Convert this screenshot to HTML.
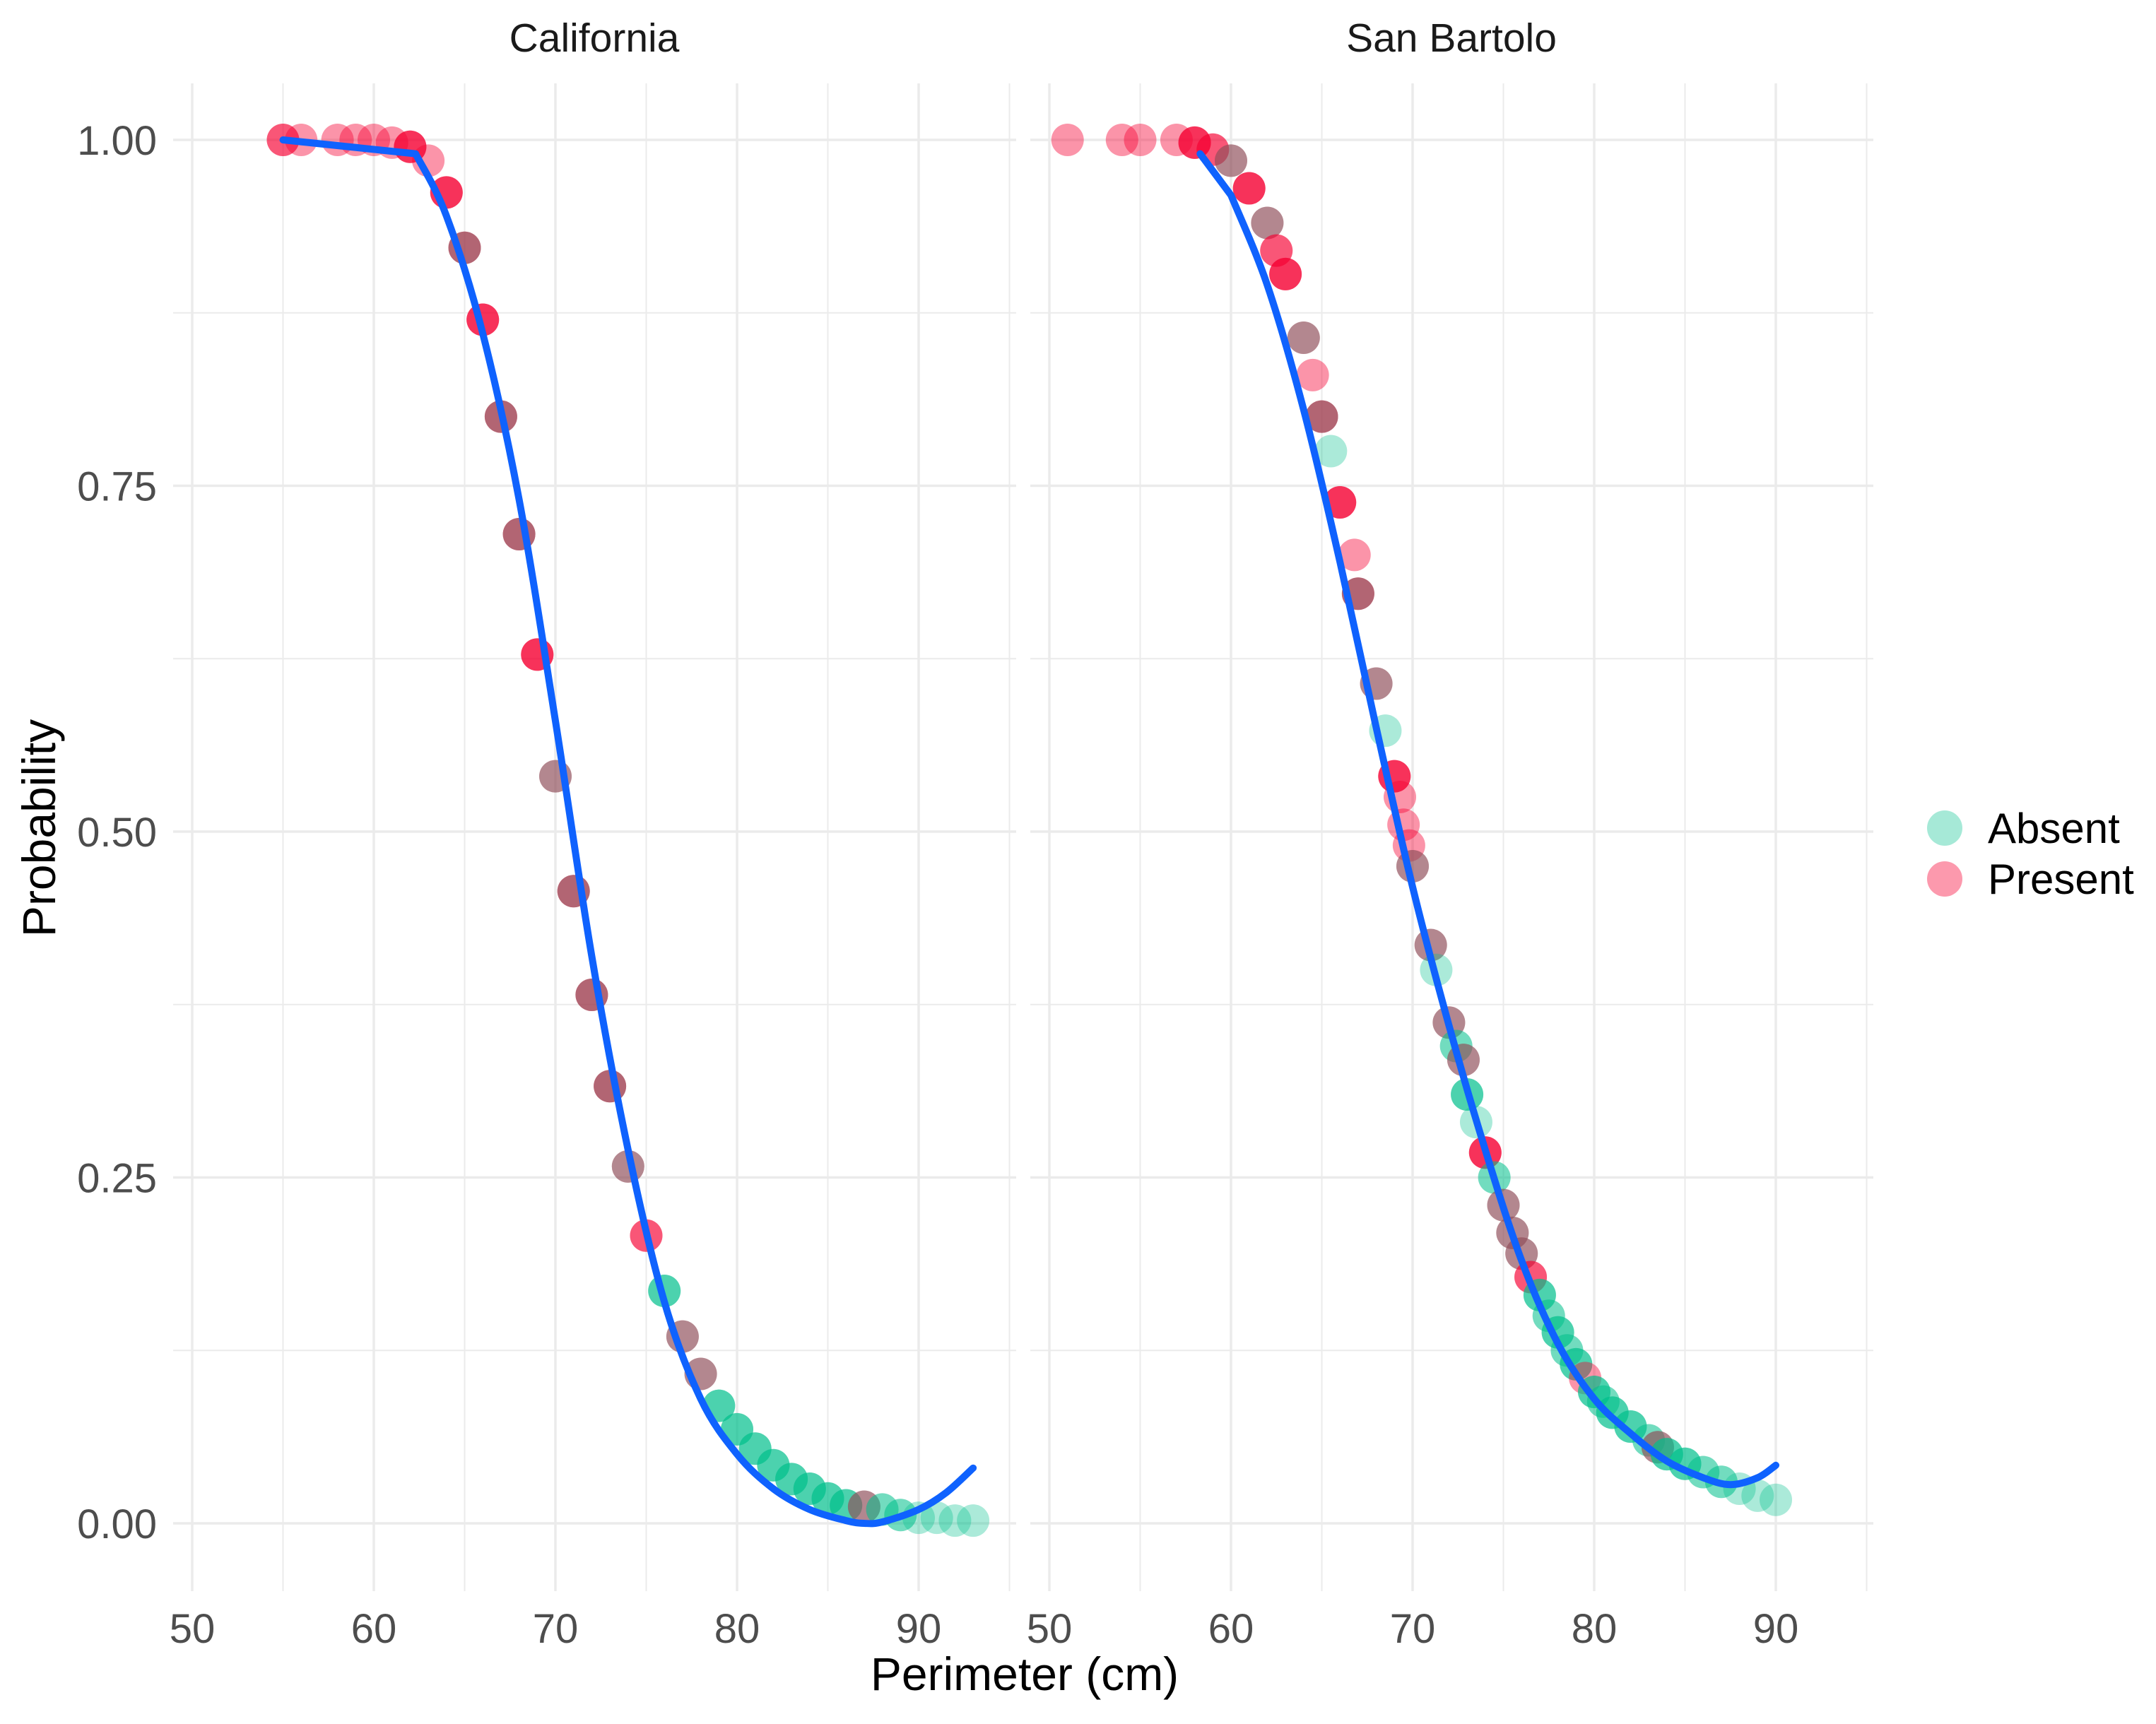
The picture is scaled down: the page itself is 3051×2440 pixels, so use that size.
<!DOCTYPE html>
<html><head><meta charset="utf-8"><style>
html,body{margin:0;padding:0;background:#fff;width:3051px;height:2440px;overflow:hidden}
svg{display:block;font-family:"Liberation Sans",sans-serif}
</style></head><body>
<svg id="chart" width="3051" height="2440" viewBox="0 0 3051 2440">
<g id="grid"></g><g id="marks"></g><g id="labels"></g>
<g>
<circle cx="2752" cy="1172" r="25" fill="rgb(0,192,140)" fill-opacity="0.35"/>
<circle cx="2752" cy="1244" r="25" fill="rgb(248,0,50)" fill-opacity="0.4"/>
<text x="2813" y="1193" font-size="60" fill="#000">Absent</text>
<text x="2813" y="1265" font-size="60" fill="#000">Present</text>
</g>
<text x="1450" y="2392" font-size="66" text-anchor="middle" fill="#000">Perimeter (cm)</text>
<text transform="translate(78,1172) rotate(-90)" font-size="66" text-anchor="middle" fill="#000">Probability</text>
</svg>
<script>
const xTicks = [50,60,70,80,90];
const yTicks = [0,0.25,0.5,0.75,1];
const yTickLabels = ["0.00","0.25","0.50","0.75","1.00"];
const panelTitles = ["California","San Bartolo"];
// California points
const calX = [55,56,58,59,60,61,62,63,64,65,66,67,68,69,70,71,72,73,74,75,76,77,78,79,80,81,82,83,84,85,86,87,88,89,90,91,92,93];
const calP = [1,1,1,1,1,0.998,0.995,0.985,0.962,0.922,0.87,0.8,0.715,0.628,0.54,0.457,0.382,0.316,0.258,0.208,0.168,0.135,0.108,0.085,0.068,0.054,0.042,0.032,0.025,0.018,0.013,0.012,0.01,0.006,0.004,0.004,0.002,0.002];
const calType = ["PP","P","P","P","P","P","PPP","P","PPP","PPA","PPP","PPA","PPA","PPP","PA","PPA","PPA","PPA","PA","PP","AAA","PA","PA","AAA","AAA","AAA","AAA","AAA","AAA","AAA","AAA","PA","AA","AA","A","A","A","A"];
const calCurveX = [55,62.3,64,66,68,70,72,74,76,78,80,82,84,86,87,88,90,91.5,93];
const calCurveP = [1,0.99,0.945,0.86,0.74,0.58,0.41,0.27,0.16,0.09,0.05,0.025,0.01,0.002,0.0,0.001,0.01,0.022,0.04];
// San Bartolo points
const sbX = [51,54,55,57,58,59,60,61,62,62.5,63,64,64.5,65,65.5,66,66.8,67,68,68.5,69,69.3,69.5,69.8,70,71,71.3,72,72.4,72.8,73,73.5,74,74.5,75,75.5,76,76.5,77,77.5,78,78.5,79,79.5,80,80.5,81,82,83,83.5,84,85,86,87,88,89,90];
const sbP = [1,1,1,1,0.998,0.993,0.985,0.965,0.94,0.92,0.903,0.857,0.83,0.80,0.775,0.738,0.70,0.672,0.607,0.573,0.54,0.525,0.505,0.49,0.475,0.418,0.40,0.362,0.345,0.335,0.31,0.29,0.268,0.25,0.23,0.21,0.195,0.178,0.165,0.15,0.138,0.125,0.115,0.105,0.095,0.088,0.08,0.07,0.06,0.055,0.05,0.043,0.037,0.03,0.025,0.02,0.017];
const sbType = ["P","P","P","P","PPP","PP","PA","PPP","PA","PP","PPP","PA","P","PPA","A","PPP","P","PPA","PA","A","PPP","P","P","P","PA","PA","A","PA","AA","PA","AAA","A","PPP","AA","PA","PA","PA","PP","AAA","AA","AAA","AA","AAA","P","AAA","AA","AAA","AAA","AA","PA","AAA","AAA","AA","AA","A","A","A"];
const sbCurveX = [58.3,60,62,64,66,68,70,72,74,76,78,80,82,84,86,87.5,89,90];
const sbCurveP = [0.99,0.96,0.895,0.805,0.695,0.575,0.46,0.36,0.27,0.19,0.13,0.09,0.065,0.045,0.033,0.028,0.033,0.042];

const NS="http://www.w3.org/2000/svg";
const panels=[{x50:272,left:245,right:1438,cx:841},{x50:1485,left:1458,right:2651,cx:2054}];
const pxPerUnit=25.7, yTop=118, yBot=2252;
function yScale(p){return 2156-p*1958;}
function xScale(pi,v){return panels[pi].x50+(v-50)*pxPerUnit;}
const grid=document.getElementById('grid'), marks=document.getElementById('marks'), labels=document.getElementById('labels');
function mk(tag,attrs,parent){const e=document.createElementNS(NS,tag);for(const k in attrs)e.setAttribute(k,attrs[k]);parent.appendChild(e);return e;}
panels.forEach((pn,pi)=>{
  for(let v=45;v<=95;v+=5){const x=xScale(pi,v);if(x<pn.left||x>pn.right)continue;
    const l=mk('line',{x1:x,x2:x,y1:yTop,y2:yBot,stroke:'#ebebeb','stroke-width':v%10===0?3.5:2},grid);
    
    }
  for(let i=0;i<=8;i++){const y=yScale(i*0.125);
    const l=mk('line',{x1:pn.left,x2:pn.right,y1:y,y2:y,stroke:'#ebebeb','stroke-width':i%2===0?3.5:2},grid);
    
    }
  xTicks.forEach(t=>{const tx=mk('text',{x:xScale(pi,t),y:2325,'font-size':58,'text-anchor':'middle',fill:'#4d4d4d'},labels);tx.textContent=t;
    
    });
  const tt=mk('text',{x:pn.cx,y:73,'font-size':57,'text-anchor':'middle',fill:'#1a1a1a'},labels);tt.textContent=panelTitles[pi];
  
  
});
yTicks.forEach((t,i)=>{const tx=mk('text',{x:222,y:yScale(t)+21,'font-size':58,'text-anchor':'end',fill:'#4d4d4d'},labels);tx.textContent=yTickLabels[i];
  
  });
function drawPoints(pi,xs,ps,types){
  xs.forEach((v,i)=>{const cx=xScale(pi,v),cy=yScale(ps[i]);const t=types[i];
    const reds=t.split('').filter(c=>c==='P').length, teals=t.length-reds;
    for(let k=0;k<reds;k++){const c=mk('circle',{cx:cx,cy:cy,r:23,fill:'rgb(245,0,50)','fill-opacity':0.42},marks);
      
      }
    for(let k=0;k<teals;k++){const c=mk('circle',{cx:cx,cy:cy,r:23,fill:reds?'rgb(90,120,110)':'rgb(0,192,140)','fill-opacity':reds?0.45:0.33},marks);
      
      }
  });
}
function drawCurve(pi,xs,ps,name){
  const pts=xs.map((v,i)=>[xScale(pi,v),yScale(ps[i])]);
  let d='M'+pts[0][0].toFixed(1)+','+pts[0][1].toFixed(1);
  for(let i=0;i<pts.length-1;i++){
    const p0=pts[Math.max(i-1,0)],p1=pts[i],p2=pts[i+1],p3=pts[Math.min(i+2,pts.length-1)];
    if(i===0){d+=' L'+p2[0].toFixed(1)+','+p2[1].toFixed(1);continue;}
    const q0=(i===1)?p1:p0;
    const c1=[p1[0]+(p2[0]-q0[0])/6,p1[1]+(p2[1]-q0[1])/6];
    const c2=[p2[0]-(p3[0]-p1[0])/6,p2[1]-(p3[1]-p1[1])/6];
    d+=' C'+c1[0].toFixed(1)+','+c1[1].toFixed(1)+' '+c2[0].toFixed(1)+','+c2[1].toFixed(1)+' '+p2[0].toFixed(1)+','+p2[1].toFixed(1);
  }
  const p=mk('path',{d:d,fill:'none',stroke:'#0f62fe','stroke-width':10,'stroke-linejoin':'round','stroke-linecap':'round'},marks);
  
  
}
drawPoints(0,calX,calP,calType);
drawPoints(1,sbX,sbP,sbType);
drawCurve(0,calCurveX,calCurveP,'california-fit-line');
drawCurve(1,sbCurveX,sbCurveP,'san-bartolo-fit-line');
</script>
</body></html>
